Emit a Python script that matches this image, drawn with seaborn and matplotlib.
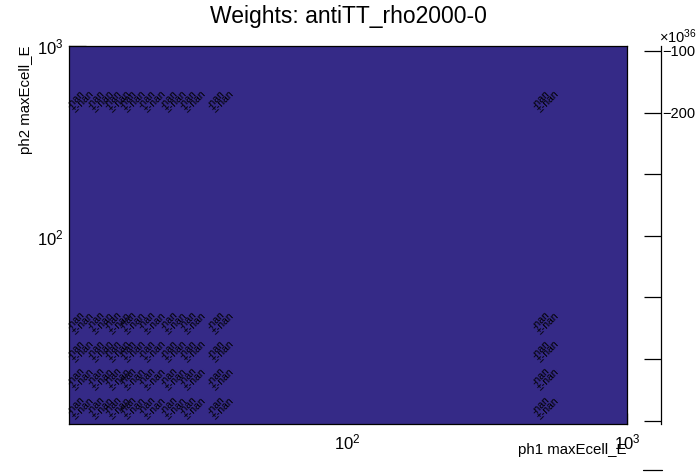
import numpy as np
import matplotlib
matplotlib.use("Agg")
import matplotlib.pyplot as plt
from matplotlib.colors import ListedColormap
from matplotlib.lines import Line2D
from matplotlib.ticker import LogLocator, FixedLocator, NullFormatter
import seaborn as sns

# ---------------- data ----------------
title = "Weights: antiTT_rho2000-0"
x_title = "ph1 maxEcell_E"
y_title = "ph2 maxEcell_E"
x_range = [10.05, 1000.0]
y_range = [10.4, 1000.0]
# positions of the filled cells (their text labels)
cell_x = [10.7, 12.6, 14.5, 16.4, 19.3, 23.1, 26.9, 34.0, 495.0]
cell_y = [11.4, 16.1, 22.5, 31.8, 461.0]
value_text = "-nan"
error_text = "\u00b1-nan"
# palette axis (colour bar) ticks, in units of 1e36
pal_ticks = [-100, -200, -300, -400, -500, -600, -700]
pal_labels = ["\u2212100", "\u2212200", "", "", "", "", ""]
pal_range = [-705.5, -91.9]
pal_exponent = r"$\times$10$^{36}$"
bird_low = "#352a87"

# ---------------- style ----------------
sns.set_theme(style="white")
plt.rcParams["font.family"] = ["Liberation Sans", "DejaVu Sans"]
plt.rcParams["mathtext.fontset"] = "custom"
plt.rcParams["mathtext.rm"] = "Liberation Sans"
plt.rcParams["mathtext.it"] = "Liberation Sans:italic"
plt.rcParams["mathtext.bf"] = "Liberation Sans:bold"

W, H = 696, 472
fig = plt.figure(figsize=(W / 100, H / 100), dpi=100)
fig.patch.set_facecolor("white")

ax = fig.add_axes([69 / W, (H - 424) / H, 558 / W, 378 / H])
ax.set_xscale("log")
ax.set_yscale("log")

# all weights are NaN -> drawn with the lowest palette colour
weights = np.full((1, 1), np.nan)
cmap = ListedColormap([bird_low])
cmap.set_bad(bird_low)
ax.pcolormesh(x_range, y_range, np.ma.masked_invalid(weights), cmap=cmap,
              shading="flat")
ax.set_xlim(*x_range)
ax.set_ylim(*y_range)

for cx in cell_x:
    for cy in cell_y:
        ax.annotate(value_text, (cx, cy), xytext=(-1, 11), textcoords="offset pixels",
                    rotation=45, rotation_mode="anchor", ha="center", va="center",
                    fontsize=7.5, color="black")
        ax.annotate(error_text, (cx, cy), xytext=(-3, -1), textcoords="offset pixels",
                    rotation=45, rotation_mode="anchor", ha="left", va="center",
                    fontsize=7.5, color="black")

for s in ["top", "right", "left", "bottom"]:
    ax.spines[s].set_visible(True)
    ax.spines[s].set_color("black")
    ax.spines[s].set_linewidth(0.9)

ax.xaxis.set_major_locator(LogLocator(base=10, numticks=10))
ax.yaxis.set_major_locator(LogLocator(base=10, numticks=10))
ax.xaxis.set_minor_locator(LogLocator(base=10, subs=np.arange(2, 10), numticks=20))
ax.yaxis.set_minor_locator(LogLocator(base=10, subs=np.arange(2, 10), numticks=20))
ax.xaxis.set_minor_formatter(NullFormatter())
ax.yaxis.set_minor_formatter(NullFormatter())
ax.tick_params(axis="x", which="major", direction="in", length=8, width=0.9,
               color="black", labelsize=12, pad=6, bottom=True, top=False,
               labelcolor="black")
ax.tick_params(axis="x", which="minor", direction="in", length=4, width=0.9,
               color="black", bottom=True, top=False)
ax.tick_params(axis="y", which="major", direction="in", length=12, width=0.9,
               color="black", labelsize=12, pad=4, left=True, right=False,
               labelcolor="black")
ax.tick_params(axis="y", which="minor", direction="in", length=6, width=0.9,
               color="black", left=True, right=False)

fig.text(348 / W, 1 - 17 / H, title, ha="center", va="center", fontsize=16.5,
         color="black")
fig.text(627 / W, 1 - 450 / H, x_title, ha="right", va="center", fontsize=10.8,
         color="black")
fig.text(26 / W, 1 - 46 / H, y_title, ha="center", va="top", rotation=90,
         fontsize=10.8, color="black")

# palette axis
cax = fig.add_axes([644 / W, (H - 424) / H, 17 / W, 378 / H])
cax.set_facecolor("none")
for s in ["top", "left", "bottom"]:
    cax.spines[s].set_visible(False)
cax.spines["right"].set_color("black")
cax.spines["right"].set_linewidth(0.9)
cax.set_xticks([])
cax.set_ylim(*pal_range)
cax.yaxis.set_major_locator(FixedLocator(pal_ticks))
cax.set_yticklabels(pal_labels)
cax.yaxis.tick_right()
cax.tick_params(axis="y", direction="in", length=12.2, width=0.9, color="black",
                labelsize=10.5, pad=1, labelcolor="black")
fig.text(659 / W, 1 - 46 / H, pal_exponent, ha="left", va="bottom", fontsize=10.5,
         color="black")
fig.add_artist(Line2D([643 / W, 662 / W], [1 - 470 / H, 1 - 470 / H],
                      color="black", linewidth=0.9))

fig.savefig("out.png", dpi=100)
